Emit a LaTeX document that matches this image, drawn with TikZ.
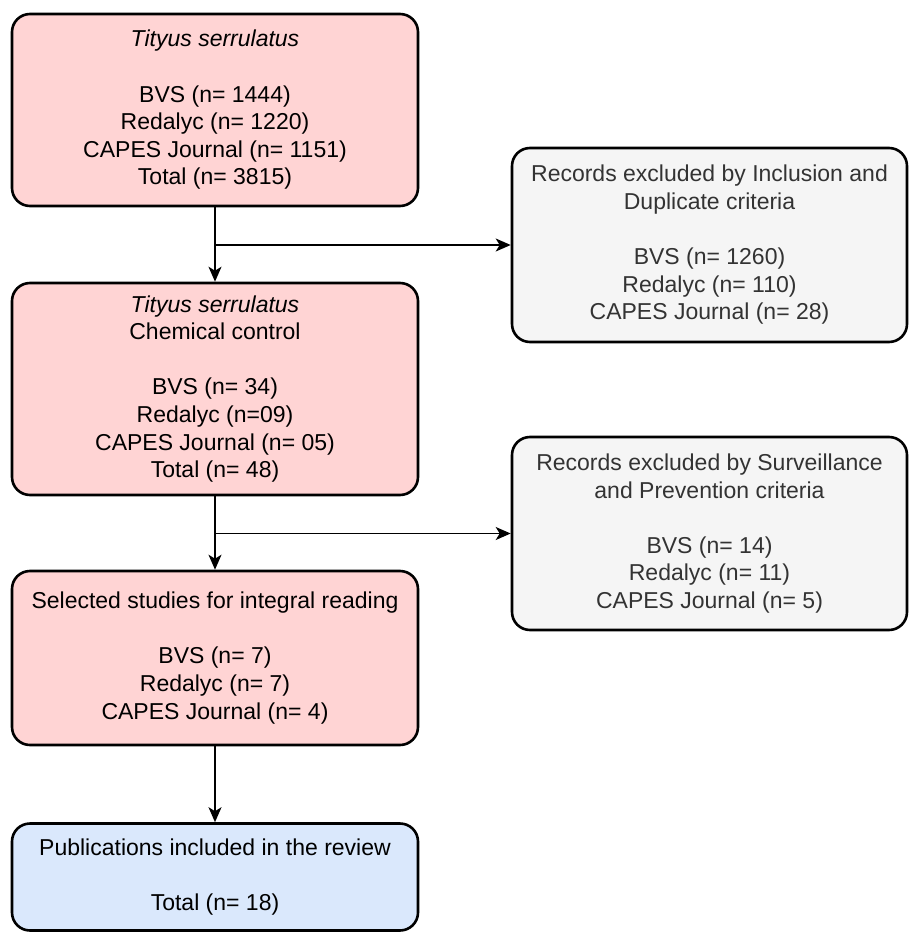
\documentclass[tikz,border=0pt]{standalone}
\usepackage{fontspec}
\setmainfont{Liberation Sans}
\usetikzlibrary{arrows.meta}
\definecolor{pinkfill}{HTML}{FFD4D4}
\definecolor{greyfill}{HTML}{F5F5F5}
\definecolor{bluefill}{HTML}{DAE8FC}
\definecolor{greytext}{HTML}{333333}
\begin{document}
\begin{tikzpicture}[x=1pt,y=-1pt,
  box/.style={draw=black, line width=2.6pt, rounded corners=18pt, align=center,
    font=\fontsize{23}{27.6}\selectfont, inner sep=0pt},
  pinkbox/.style={box, fill=pinkfill, minimum width=406pt},
  greybox/.style={box, fill=greyfill, text=greytext, minimum width=395pt},
  bluebox/.style={box, fill=bluefill, minimum width=406pt},
  conn/.style={line width=1.4pt, -{Stealth[length=15pt,width=13pt,inset=4pt]}}]
\useasboundingbox (0,0) rectangle (908,933);
\node[pinkbox, minimum height=192pt] (b1) at (215,110)
  {\textit{Tityus serrulatus}\\[27.6pt]BVS (n= 1444)\\Redalyc (n= 1220)\\CAPES Journal (n= 1151)\\Total (n= 3815)};
\node[greybox, minimum height=194pt] (b2) at (709.5,245)
  {Records excluded by Inclusion and\\Duplicate criteria\\[27.6pt]BVS (n= 1260)\\Redalyc (n= 110)\\CAPES Journal (n= 28)};
\node[pinkbox, minimum height=212pt] (b3) at (215,389)
  {\textit{Tityus serrulatus}\\Chemical control\\[27.6pt]BVS (n= 34)\\Redalyc (n=09)\\CAPES Journal (n= 05)\\Total (n= 48)};
\node[greybox, minimum height=193pt] (b4) at (709.5,533.5)
  {Records excluded by Surveillance\\and Prevention criteria\\[27.6pt]BVS (n= 14)\\Redalyc (n= 11)\\CAPES Journal (n= 5)};
\node[pinkbox, minimum height=174pt] (b5) at (215,658)
  {Selected studies for integral reading\\[27.6pt]BVS (n= 7)\\Redalyc (n= 7)\\CAPES Journal (n= 4)};
\node[bluebox, minimum height=107pt] (b6) at (215,877)
  {Publications included in the review\\[27.6pt]Total (n= 18)};
\coordinate (j1) at (215,245);
\coordinate (j2) at (215,533.5);
\draw[conn] (b1.south) -- (b3.north);
\draw[conn] (j1) -- (b2.west);
\draw[conn] (b3.south) -- (b5.north);
\draw[conn] (j2) -- (b4.west);
\draw[conn] (b5.south) -- (b6.north);
\end{tikzpicture}
\end{document}
